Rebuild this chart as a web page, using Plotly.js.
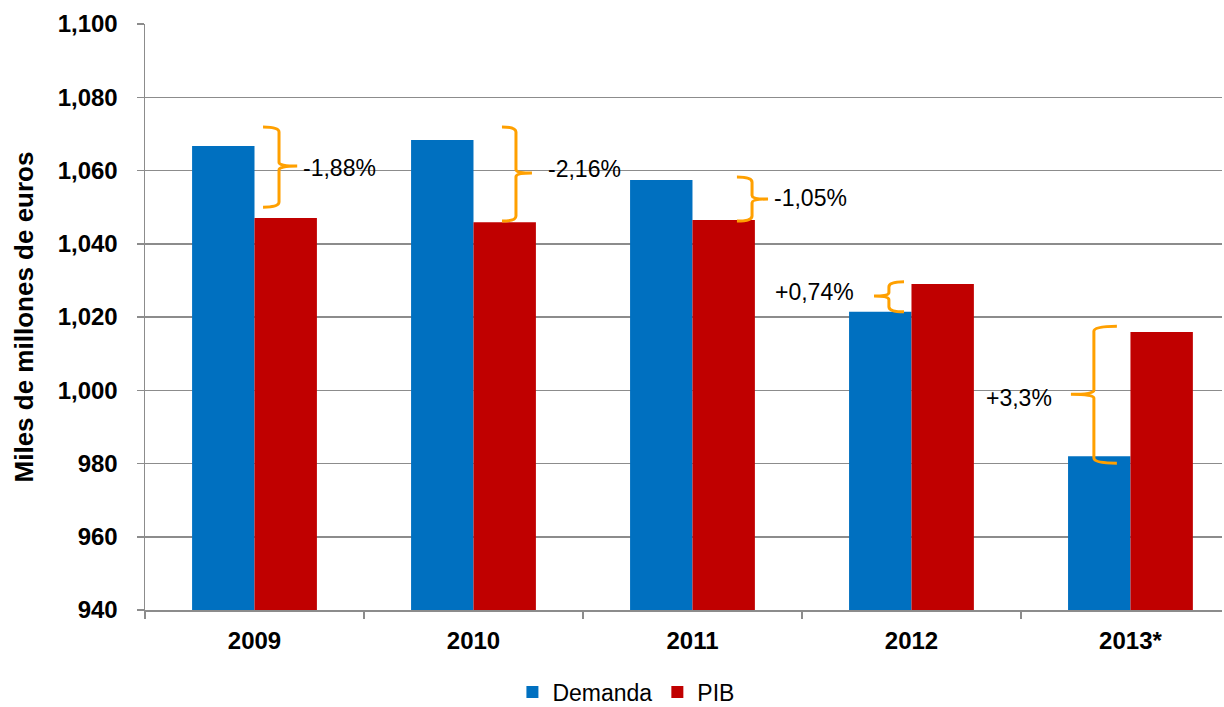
<!DOCTYPE html>
<html>
<head>
<meta charset="utf-8">
<script src="https://cdn.plot.ly/plotly-3.0.1.min.js"></script>
<style>html,body{margin:0;padding:0;background:#fff;}</style>
</head>
<body>
<div id="chart" style="width:1224px;height:707px;"></div>
<script>
const categories = ['2009', '2010', '2011', '2012', '2013*'];
const demanda = [1066.7, 1068.3, 1057.4, 1021.4, 982.0];
const pib = [1047.0, 1045.9, 1046.5, 1029.0, 1015.9];
const diffLabels = ['-1,88%', '-2,16%', '-1,05%', '+0,74%', '+3,3%'];

const FONT = 'Liberation Sans, Arial, sans-serif';
const ORANGE = '#FFA000';
const GRID = '#8c8c8c';

const xIdx = categories.map((c, i) => i);

// brace geometry (annotation decoration, x in category index units)
const braces = [
  {xl: 0.039, xv: 0.112, xp: 0.195, top: 1071.9, bot: 1050.0, mid: 1061.2, tx: 0.39, ty: 1060.7},
  {xl: 1.130, xv: 1.194, xp: 1.267, top: 1071.9, bot: 1046.2, mid: 1059.3, tx: 1.509, ty: 1060.4},
  {xl: 2.203, xv: 2.272, xp: 2.345, top: 1058.2, bot: 1046.2, mid: 1052.2, tx: 2.537, ty: 1052.5},
  {xl: 2.966, xv: 2.897, xp: 2.829, top: 1029.6, bot: 1021.4, mid: 1025.7, tx: 2.555, ty: 1026.8},
  {xl: 3.938, xv: 3.833, xp: 3.728, top: 1017.5, bot: 980.1, mid: 998.9, tx: 3.491, ty: 997.9}
];

function bracePath(b) {
  const r = 1.4, rm = 1.0;
  return 'M' + b.xl + ',' + b.top +
    ' Q' + b.xv + ',' + b.top + ' ' + b.xv + ',' + (b.top - r) +
    ' L' + b.xv + ',' + (b.mid + rm) +
    ' Q' + b.xv + ',' + b.mid + ' ' + b.xp + ',' + b.mid +
    ' Q' + b.xv + ',' + b.mid + ' ' + b.xv + ',' + (b.mid - rm) +
    ' L' + b.xv + ',' + (b.bot + r) +
    ' Q' + b.xv + ',' + b.bot + ' ' + b.xl + ',' + b.bot;
}

const shapes = braces.map(b => ({
  type: 'path', xref: 'x', yref: 'y', path: bracePath(b),
  line: {color: ORANGE, width: 3}
}));

const annotations = braces.map((b, i) => ({
  x: b.tx, y: b.ty, xref: 'x', yref: 'y', text: diffLabels[i],
  showarrow: false, xanchor: 'center', yanchor: 'middle',
  font: {family: FONT, size: 23, color: '#000'}
}));

const traces = [
  {type: 'bar', name: 'Demanda', x: xIdx, y: demanda, marker: {color: '#0070C0'}},
  {type: 'bar', name: 'PIB', x: xIdx, y: pib, marker: {color: '#C00000'}}
];

const layout = {
  width: 1224, height: 707,
  margin: {l: 145, r: 2, t: 24, b: 97, autoexpand: false},
  paper_bgcolor: '#fff', plot_bgcolor: '#fff',
  barmode: 'group', bargap: 0.43, bargroupgap: 0,
  font: {family: FONT, color: '#000'},
  showlegend: true,
  legend: {
    orientation: 'h', x: 0.447, xanchor: 'center', y: -0.14, yanchor: 'middle',
    font: {family: FONT, size: 23, color: '#000'}, itemclick: false,
    tracegroupgap: 0
  },
  xaxis: {
    type: 'linear', range: [-0.5, 4.418],
    tickmode: 'array', tickvals: xIdx, ticktext: categories,
    ticks: '', showgrid: false, zeroline: false,
    showline: true, linecolor: GRID, linewidth: 1.5,
    ticklabelstandoff: 9,
    tickfont: {family: FONT, size: 24, color: '#000', weight: 'bold'},
    minor: {tickmode: 'linear', tick0: -0.5, dtick: 1, ticks: 'outside', ticklen: 7, tickcolor: GRID, tickwidth: 1.5, showgrid: false}
  },
  yaxis: {
    range: [940, 1100], tickmode: 'linear', tick0: 940, dtick: 20,
    separatethousands: true, tickformat: ',d',
    showgrid: true, gridcolor: GRID, gridwidth: 1.5, zeroline: false,
    showline: true, linecolor: GRID, linewidth: 1.5,
    ticks: 'outside', ticklen: 7, tickcolor: GRID, tickwidth: 1.5,
    ticklabelstandoff: 14,
    tickfont: {family: FONT, size: 24, color: '#000', weight: 'bold'},
    title: {text: 'Miles de millones de euros', font: {family: FONT, size: 26, color: '#000', weight: 'bold'}, standoff: 16}
  },
  shapes: shapes,
  annotations: annotations
};

Plotly.newPlot('chart', traces, layout, {displayModeBar: false, staticPlot: true});
</script>
</body>
</html>
